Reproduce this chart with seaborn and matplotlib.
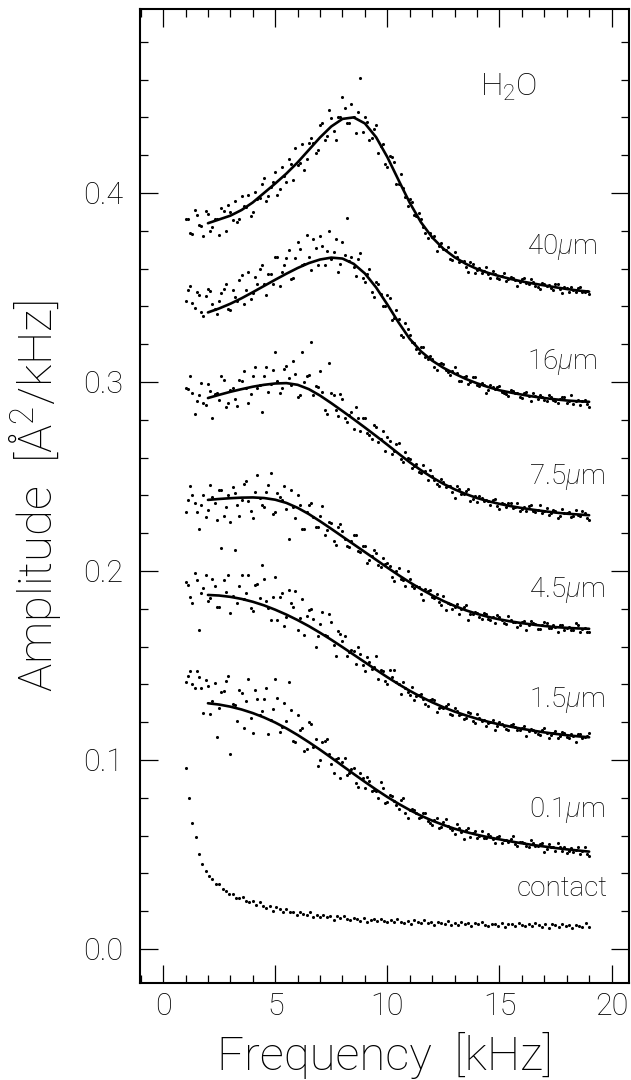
import numpy as np
import pandas as pd
import matplotlib
matplotlib.use("Agg")
import matplotlib.pyplot as plt
import seaborn as sns
from matplotlib.ticker import MultipleLocator, FormatStrFormatter

# measured spectra (amplitude in A^2/kHz), sampled evenly from 1.0 to 19.0 kHz
amp_40um = [0.386, 0.379, 0.391, 0.383, 0.377, 0.389, 0.382, 0.386, 0.392, 0.380,
            0.390, 0.396, 0.386, 0.393, 0.399, 0.390, 0.397, 0.405, 0.396, 0.403,
            0.411, 0.402, 0.409, 0.418, 0.407, 0.415, 0.426, 0.418, 0.429, 0.421,
            0.436, 0.428, 0.444, 0.433, 0.440, 0.451, 0.437, 0.447, 0.432, 0.461,
            0.440, 0.428, 0.434, 0.421, 0.426, 0.414, 0.419, 0.405, 0.410, 0.398,
            0.3966, 0.3885, 0.3895, 0.3819, 0.3761, 0.3768, 0.3694, 0.3737, 0.3698, 0.3653,
            0.3688, 0.3635, 0.3640, 0.3583, 0.3625, 0.3595, 0.3577, 0.3609, 0.3552, 0.3571,
            0.3545, 0.3574, 0.3543, 0.3552, 0.3506, 0.3545, 0.3526, 0.3547, 0.3508, 0.3494,
            0.3520, 0.3511, 0.3487, 0.3518, 0.3469, 0.3495, 0.3502, 0.3474, 0.3502, 0.3475,
            0.3463]
amp_16um = [0.343, 0.351, 0.339, 0.346, 0.335, 0.349, 0.341, 0.336, 0.347, 0.352,
            0.338, 0.345, 0.354, 0.341, 0.358, 0.347, 0.352, 0.362, 0.346, 0.357,
            0.366, 0.351, 0.362, 0.370, 0.355, 0.374, 0.362, 0.378, 0.359, 0.371,
            0.377, 0.362, 0.380, 0.369, 0.358, 0.374, 0.387, 0.366, 0.356, 0.368,
            0.353, 0.360, 0.345, 0.352, 0.340, 0.346, 0.333, 0.338, 0.325, 0.331,
            0.3251, 0.3206, 0.3153, 0.3183, 0.3124, 0.3123, 0.3062, 0.3098, 0.3064, 0.3039,
            0.3079, 0.3003, 0.3025, 0.2988, 0.3025, 0.2985, 0.2992, 0.2944, 0.2982, 0.2961,
            0.2980, 0.2940, 0.2925, 0.2951, 0.2941, 0.2917, 0.2948, 0.2899, 0.2925, 0.2931,
            0.2903, 0.2930, 0.2902, 0.2890, 0.2922, 0.2890, 0.2929, 0.2898, 0.2876, 0.2905,
            0.2865]
amp_7_5um = [0.297, 0.303, 0.283, 0.293, 0.289, 0.299, 0.281, 0.294, 0.303, 0.287,
             0.296, 0.291, 0.301, 0.306, 0.289, 0.303, 0.297, 0.284, 0.308, 0.299,
             0.316, 0.294, 0.307, 0.302, 0.311, 0.292, 0.316, 0.303, 0.321, 0.298,
             0.306, 0.285, 0.310, 0.293, 0.282, 0.291, 0.279, 0.284, 0.287, 0.274,
             0.281, 0.272, 0.277, 0.268, 0.274, 0.271, 0.262, 0.267, 0.259, 0.263,
             0.2595, 0.2557, 0.2526, 0.2562, 0.2483, 0.2502, 0.2459, 0.2489, 0.2442, 0.2450,
             0.2386, 0.2436, 0.2407, 0.2432, 0.2379, 0.2365, 0.2388, 0.2376, 0.2350, 0.2380,
             0.2330, 0.2356, 0.2361, 0.2332, 0.2357, 0.2328, 0.2315, 0.2347, 0.2313, 0.2350,
             0.2316, 0.2294, 0.2321, 0.2279, 0.2326, 0.2308, 0.2286, 0.2324, 0.2292, 0.2306,
             0.2270]
amp_4_5um = [0.231, 0.245, 0.236, 0.222, 0.240, 0.232, 0.239, 0.227, 0.243, 0.234,
             0.226, 0.241, 0.229, 0.246, 0.237, 0.228, 0.251, 0.235, 0.242, 0.252,
             0.231, 0.239, 0.245, 0.217, 0.234, 0.240, 0.222, 0.231, 0.236, 0.223,
             0.229, 0.219, 0.226, 0.216, 0.223, 0.221, 0.213, 0.216, 0.219, 0.210,
             0.213, 0.206, 0.211, 0.203, 0.207, 0.204, 0.197, 0.200, 0.196, 0.192,
             0.1956, 0.1909, 0.1913, 0.1847, 0.1893, 0.1860, 0.1879, 0.1819, 0.1794, 0.1823,
             0.1807, 0.1771, 0.1808, 0.1742, 0.1774, 0.1775, 0.1745, 0.1770, 0.1741, 0.1727,
             0.1758, 0.1725, 0.1762, 0.1728, 0.1705, 0.1732, 0.1689, 0.1736, 0.1718, 0.1695,
             0.1732, 0.1700, 0.1713, 0.1676, 0.1715, 0.1698, 0.1687, 0.1726, 0.1675, 0.1699,
             0.1678]
amp_1_5um = [0.194, 0.186, 0.199, 0.169, 0.191, 0.184, 0.196, 0.181, 0.212, 0.189,
             0.178, 0.211, 0.192, 0.185, 0.198, 0.179, 0.193, 0.203, 0.184, 0.174,
             0.197, 0.186, 0.171, 0.190, 0.181, 0.169, 0.185, 0.176, 0.180, 0.160,
             0.172, 0.166, 0.177, 0.161, 0.168, 0.163, 0.155, 0.158, 0.151, 0.156,
             0.147, 0.152, 0.149, 0.143, 0.147, 0.140, 0.144, 0.141, 0.135, 0.138,
             0.1342, 0.1316, 0.1342, 0.1324, 0.1286, 0.1321, 0.1253, 0.1282, 0.1286, 0.1244,
             0.1274, 0.1236, 0.1215, 0.1254, 0.1207, 0.1242, 0.1206, 0.1179, 0.1203, 0.1158,
             0.1202, 0.1182, 0.1157, 0.1192, 0.1157, 0.1168, 0.1129, 0.1166, 0.1147, 0.1134,
             0.1171, 0.1118, 0.1140, 0.1118, 0.1150, 0.1123, 0.1136, 0.1094, 0.1137, 0.1121,
             0.1145]
amp_0_1um = [0.141, 0.147, 0.138, 0.144, 0.125, 0.139, 0.131, 0.112, 0.136, 0.142,
             0.103, 0.129, 0.137, 0.117, 0.143, 0.114, 0.132, 0.126, 0.138, 0.121,
             0.143, 0.115, 0.130, 0.141, 0.110, 0.124, 0.117, 0.106, 0.119, 0.111,
             0.100, 0.110, 0.103, 0.093, 0.101, 0.099, 0.092, 0.095, 0.088, 0.093,
             0.085, 0.089, 0.084, 0.080, 0.085, 0.078, 0.081, 0.076, 0.079, 0.072,
             0.0735, 0.0737, 0.0693, 0.0721, 0.0678, 0.0655, 0.0692, 0.0644, 0.0688, 0.0642,
             0.0609, 0.0641, 0.0582, 0.0641, 0.0615, 0.0587, 0.0623, 0.0589, 0.0600, 0.0561,
             0.0597, 0.0578, 0.0564, 0.0600, 0.0546, 0.0567, 0.0543, 0.0574, 0.0545, 0.0557,
             0.0513, 0.0555, 0.0537, 0.0558, 0.0520, 0.0507, 0.0534, 0.0526, 0.0504, 0.0537,
             0.0490]

# in-between samples of the same spectra, 1.1 to 18.9 kHz
amp_40um_mid = [0.3861, 0.3784, 0.3882, 0.3826, 0.3903, 0.3799, 0.3861, 0.3779, 0.3904, 0.3939,
                0.3859, 0.3844, 0.3982, 0.3926, 0.3879, 0.4005, 0.3971, 0.4081, 0.3984, 0.4058,
                0.3989, 0.4136, 0.4058, 0.4154, 0.4240, 0.4157, 0.4121, 0.4264, 0.4263, 0.4227,
                0.4369, 0.4302, 0.4397, 0.4278, 0.4402, 0.4450, 0.4369, 0.4400, 0.4429, 0.4325,
                0.4374, 0.4289, 0.4358, 0.4246, 0.4155, 0.4194, 0.4166, 0.4047, 0.4027, 0.3930,
                0.3951, 0.3880, 0.3860, 0.3786, 0.3787, 0.3771, 0.3717, 0.3702, 0.3714, 0.3648,
                0.3662, 0.3639, 0.3610, 0.3635, 0.3579, 0.3602, 0.3587, 0.3571, 0.3586, 0.3551,
                0.3561, 0.3533, 0.3555, 0.3540, 0.3527, 0.3548, 0.3521, 0.3527, 0.3503, 0.3525,
                0.3507, 0.3495, 0.3517, 0.3491, 0.3502, 0.3474, 0.3489, 0.3496, 0.3474, 0.3483]
amp_16um_mid = [0.3489, 0.3419, 0.3475, 0.3370, 0.3454, 0.3484, 0.3385, 0.3429, 0.3493, 0.3386,
                0.3487, 0.3426, 0.3564, 0.3487, 0.3437, 0.3558, 0.3598, 0.3521, 0.3570, 0.3520,
                0.3659, 0.3582, 0.3658, 0.3544, 0.3655, 0.3702, 0.3623, 0.3660, 0.3758, 0.3621,
                0.3717, 0.3694, 0.3653, 0.3759, 0.3622, 0.3671, 0.3642, 0.3607, 0.3653, 0.3548,
                0.3571, 0.3476, 0.3530, 0.3464, 0.3404, 0.3445, 0.3341, 0.3333, 0.3238, 0.3281,
                0.3212, 0.3173, 0.3186, 0.3133, 0.3135, 0.3081, 0.3093, 0.3093, 0.3051, 0.3056,
                0.3047, 0.3003, 0.3034, 0.3001, 0.3025, 0.2979, 0.2983, 0.2955, 0.2974, 0.2973,
                0.2948, 0.2937, 0.2960, 0.2940, 0.2921, 0.2941, 0.2925, 0.2941, 0.2912, 0.2921,
                0.2898, 0.2923, 0.2898, 0.2912, 0.2923, 0.2897, 0.2881, 0.2906, 0.2899, 0.2883]
amp_7_5um_mid = [0.2964, 0.2940, 0.2900, 0.2996, 0.2876, 0.2954, 0.2934, 0.2905, 0.3010, 0.2891,
                 0.2969, 0.2875, 0.3007, 0.2967, 0.2936, 0.3078, 0.2983, 0.3032, 0.2945, 0.3065,
                 0.3003, 0.2968, 0.3086, 0.2983, 0.3043, 0.2929, 0.3000, 0.3036, 0.2932, 0.2973,
                 0.2947, 0.2832, 0.2942, 0.2853, 0.2935, 0.2807, 0.2826, 0.2749, 0.2809, 0.2810,
                 0.2732, 0.2696, 0.2762, 0.2696, 0.2635, 0.2689, 0.2634, 0.2675, 0.2579, 0.2596,
                 0.2543, 0.2568, 0.2518, 0.2527, 0.2533, 0.2482, 0.2448, 0.2473, 0.2452, 0.2420,
                 0.2448, 0.2408, 0.2422, 0.2369, 0.2396, 0.2399, 0.2368, 0.2369, 0.2375, 0.2344,
                 0.2359, 0.2338, 0.2361, 0.2337, 0.2319, 0.2339, 0.2342, 0.2318, 0.2323, 0.2306,
                 0.2331, 0.2308, 0.2319, 0.2289, 0.2308, 0.2314, 0.2293, 0.2297, 0.2315, 0.2282]
amp_4_5um_mid = [0.2376, 0.2403, 0.2313, 0.2349, 0.2286, 0.2457, 0.2359, 0.2431, 0.2293, 0.2404,
                 0.2446, 0.2347, 0.2378, 0.2478, 0.2319, 0.2419, 0.2388, 0.2336, 0.2453, 0.2299,
                 0.2414, 0.2377, 0.2330, 0.2430, 0.2279, 0.2347, 0.2224, 0.2351, 0.2286, 0.2231,
                 0.2345, 0.2219, 0.2253, 0.2137, 0.2250, 0.2168, 0.2127, 0.2189, 0.2107, 0.2132,
                 0.2044, 0.2081, 0.2095, 0.2019, 0.2038, 0.2028, 0.1946, 0.2014, 0.1951, 0.2002,
                 0.1918, 0.1921, 0.1877, 0.1903, 0.1899, 0.1856, 0.1835, 0.1865, 0.1831, 0.1799,
                 0.1825, 0.1798, 0.1819, 0.1772, 0.1783, 0.1754, 0.1775, 0.1747, 0.1758, 0.1767,
                 0.1738, 0.1719, 0.1741, 0.1731, 0.1714, 0.1736, 0.1713, 0.1726, 0.1693, 0.1714,
                 0.1724, 0.1697, 0.1703, 0.1713, 0.1686, 0.1704, 0.1687, 0.1714, 0.1693, 0.1678]
amp_1_5um_mid = [0.1927, 0.1828, 0.1954, 0.1882, 0.1981, 0.1858, 0.1922, 0.1811, 0.1951, 0.1981,
                 0.1868, 0.1830, 0.1980, 0.1886, 0.1803, 0.1928, 0.1855, 0.1957, 0.1805, 0.1862,
                 0.1742, 0.1886, 0.1754, 0.1830, 0.1896, 0.1752, 0.1662, 0.1792, 0.1745, 0.1654,
                 0.1783, 0.1658, 0.1731, 0.1550, 0.1667, 0.1657, 0.1569, 0.1577, 0.1597, 0.1503,
                 0.1547, 0.1483, 0.1551, 0.1475, 0.1418, 0.1474, 0.1478, 0.1403, 0.1413, 0.1357,
                 0.1384, 0.1341, 0.1349, 0.1295, 0.1317, 0.1318, 0.1277, 0.1276, 0.1297, 0.1239,
                 0.1261, 0.1244, 0.1221, 0.1250, 0.1198, 0.1223, 0.1210, 0.1196, 0.1212, 0.1179,
                 0.1190, 0.1163, 0.1186, 0.1172, 0.1159, 0.1181, 0.1155, 0.1161, 0.1137, 0.1160,
                 0.1142, 0.1131, 0.1154, 0.1129, 0.1140, 0.1114, 0.1129, 0.1137, 0.1115, 0.1125]
amp_0_1um_mid = [0.1445, 0.1403, 0.1473, 0.1382, 0.1424, 0.1243, 0.1408, 0.1273, 0.1365, 0.1444,
                 0.1295, 0.1205, 0.1355, 0.1312, 0.1220, 0.1368, 0.1239, 0.1325, 0.1135, 0.1267,
                 0.1328, 0.1172, 0.1207, 0.1266, 0.1095, 0.1161, 0.1049, 0.1202, 0.1066, 0.0966,
                 0.1094, 0.1113, 0.0976, 0.1007, 0.0906, 0.1008, 0.0931, 0.0956, 0.0855, 0.0904,
                 0.0912, 0.0835, 0.0837, 0.0881, 0.0770, 0.0815, 0.0782, 0.0738, 0.0797, 0.0693,
                 0.0741, 0.0720, 0.0696, 0.0719, 0.0666, 0.0680, 0.0638, 0.0671, 0.0648, 0.0628,
                 0.0660, 0.0620, 0.0628, 0.0592, 0.0625, 0.0599, 0.0586, 0.0607, 0.0581, 0.0590,
                 0.0562, 0.0575, 0.0581, 0.0557, 0.0565, 0.0563, 0.0538, 0.0562, 0.0543, 0.0561,
                 0.0530, 0.0539, 0.0516, 0.0539, 0.0542, 0.0520, 0.0511, 0.0537, 0.0519, 0.0503]

amp_contact = [0.0956, 0.0800, 0.0665, 0.0590, 0.0505, 0.0452, 0.0415, 0.0388, 0.0368, 0.0342,
               0.0341, 0.0316, 0.0309, 0.0289, 0.0292, 0.0271, 0.0268, 0.0274, 0.0252, 0.0246,
               0.0252, 0.0235, 0.0246, 0.0229, 0.0216, 0.0225, 0.0203, 0.0221, 0.0210, 0.0198,
               0.0212, 0.0195, 0.0198, 0.0181, 0.0195, 0.0186, 0.0179, 0.0194, 0.0171, 0.0180,
               0.0168, 0.0182, 0.0169, 0.0175, 0.0155, 0.0172, 0.0165, 0.0173, 0.0157, 0.0151,
               0.0162, 0.0160, 0.0150, 0.0163, 0.0142, 0.0154, 0.0158, 0.0147, 0.0158, 0.0147,
               0.0141, 0.0155, 0.0142, 0.0157, 0.0145, 0.0135, 0.0148, 0.0131, 0.0152, 0.0143,
               0.0135, 0.0151, 0.0137, 0.0143, 0.0129, 0.0145, 0.0137, 0.0132, 0.0149, 0.0128,
               0.0138, 0.0127, 0.0143, 0.0131, 0.0138, 0.0119, 0.0138, 0.0133, 0.0141, 0.0127,
               0.0122, 0.0134, 0.0133, 0.0123, 0.0138, 0.0117, 0.0130, 0.0134, 0.0123, 0.0135,
               0.0125, 0.0120, 0.0134, 0.0122, 0.0138, 0.0125, 0.0116, 0.0130, 0.0113, 0.0134,
               0.0126, 0.0118, 0.0134, 0.0120, 0.0127, 0.0113, 0.0129, 0.0122, 0.0117, 0.0135,
               0.0114]

# fitted curves, 2 to 19 kHz in 0.5 kHz steps
fit_freq = np.arange(2.0, 19.01, 0.5)
fit_40um = [0.384, 0.386, 0.388, 0.391, 0.395, 0.400, 0.405, 0.4103, 0.4162, 0.4228,
            0.4294, 0.4352, 0.4392, 0.4400, 0.4368, 0.4295, 0.4190, 0.4068, 0.3948, 0.3845,
            0.3765, 0.3705, 0.3660, 0.3625, 0.3598, 0.3577, 0.3560, 0.3545, 0.3532, 0.3521,
            0.3511, 0.3501, 0.3492, 0.3484, 0.3478]
fit_16um = [0.3368, 0.3389, 0.3414, 0.3443, 0.3475, 0.3508, 0.3541, 0.3573, 0.3603, 0.3629,
            0.3648, 0.3658, 0.3653, 0.3625, 0.3574, 0.3500, 0.3410, 0.3315, 0.3228, 0.3162,
            0.3113, 0.3075, 0.3044, 0.3016, 0.2993, 0.2973, 0.2956, 0.2944, 0.2933, 0.2923,
            0.2915, 0.2908, 0.2902, 0.2898, 0.2895]
fit_7_5um = [0.2915, 0.2932, 0.2948, 0.2962, 0.2975, 0.2985, 0.2992, 0.2994, 0.2985, 0.2962,
             0.2928, 0.2888, 0.2846, 0.2803, 0.2759, 0.2714, 0.2668, 0.2621, 0.2575, 0.2533,
             0.2495, 0.2461, 0.2432, 0.2407, 0.2386, 0.2369, 0.2355, 0.2343, 0.2333, 0.2324,
             0.2316, 0.2309, 0.2303, 0.2299, 0.2295]
fit_4_5um = [0.2376, 0.2381, 0.2385, 0.2388, 0.2389, 0.2386, 0.2377, 0.2360, 0.2334, 0.2301,
             0.2263, 0.2223, 0.2182, 0.2141, 0.2100, 0.2059, 0.2018, 0.1978, 0.1940, 0.1904,
             0.1871, 0.1841, 0.1815, 0.1792, 0.1773, 0.1757, 0.1744, 0.1733, 0.1724, 0.1716,
             0.1709, 0.1703, 0.1699, 0.1696, 0.1694]
fit_1_5um = [0.1873, 0.1870, 0.1863, 0.1852, 0.1837, 0.1818, 0.1795, 0.1769, 0.1740, 0.1708,
             0.1673, 0.1636, 0.1597, 0.1557, 0.1517, 0.1477, 0.1438, 0.1401, 0.1366, 0.1334,
             0.1305, 0.1279, 0.1256, 0.1236, 0.1218, 0.1202, 0.1188, 0.1176, 0.1165, 0.1155,
             0.1146, 0.1138, 0.1131, 0.1125, 0.1120]
fit_0_1um = [0.1300, 0.1293, 0.1282, 0.1267, 0.1248, 0.1225, 0.1198, 0.1167, 0.1132, 0.1094,
             0.1054, 0.1012, 0.0969, 0.0926, 0.0884, 0.0843, 0.0804, 0.0768, 0.0735, 0.0705,
             0.0679, 0.0656, 0.0636, 0.0619, 0.0604, 0.0591, 0.0580, 0.0569, 0.0559, 0.0550,
             0.0542, 0.0534, 0.0527, 0.0521, 0.0515]

spectra = [amp_40um, amp_16um, amp_7_5um, amp_4_5um, amp_1_5um, amp_0_1um, amp_contact]
spectra_mid = [amp_40um_mid, amp_16um_mid, amp_7_5um_mid, amp_4_5um_mid, amp_1_5um_mid, amp_0_1um_mid]
fits = [fit_40um, fit_16um, fit_7_5um, fit_4_5um, fit_1_5um, fit_0_1um]

names = ["40$\\mu$m", "16$\\mu$m", "7.5$\\mu$m", "4.5$\\mu$m", "1.5$\\mu$m", "0.1$\\mu$m", "contact"]
name_pos = [(19.35, 0.3716), (19.35, 0.3107), (19.71, 0.2499), (19.71, 0.190),
            (19.71, 0.1317), (19.71, 0.0735), (19.84, 0.0321)]

sns.set_theme(style="ticks")
plt.rcParams["font.family"] = ["Roboto", "DejaVu Sans"]
plt.rcParams["font.weight"] = "light"
plt.rcParams["mathtext.fontset"] = "custom"
plt.rcParams["mathtext.rm"] = "Roboto:light"
plt.rcParams["mathtext.it"] = "Roboto:italic:light"
for key in ["text.color", "axes.labelcolor", "xtick.color", "ytick.color", "axes.edgecolor"]:
    plt.rcParams[key] = "black"

fig = plt.figure(figsize=(6.31, 10.80), dpi=100)
ax = fig.add_axes([0.2219, 0.0895, 0.7750, 0.9019])

for amp in spectra:
    freq = np.linspace(1.0, 19.0, len(amp))
    sns.scatterplot(x=freq, y=amp, s=5, color="black", linewidth=0, ax=ax)
for amp in spectra_mid:
    freq = np.linspace(1.1, 18.9, len(amp))
    sns.scatterplot(x=freq, y=amp, s=5, color="black", linewidth=0, ax=ax)
for fit in fits:
    sns.lineplot(x=fit_freq, y=fit, color="black", linewidth=1.9, ax=ax)

for name, (tx, ty) in zip(names, name_pos):
    ax.text(tx, ty, name, ha="right", va="center", fontsize=20, fontweight="light")
ax.text(14.13, 0.456, "H$_2$O", ha="left", va="center", fontsize=23, fontweight="light")

ax.set_xlim(-1.03, 20.78)
ax.set_ylim(-0.0182, 0.4972)
ax.xaxis.set_major_locator(MultipleLocator(5))
ax.xaxis.set_minor_locator(MultipleLocator(1))
ax.yaxis.set_major_locator(MultipleLocator(0.1))
ax.yaxis.set_minor_locator(MultipleLocator(0.02))
ax.yaxis.set_major_formatter(FormatStrFormatter("%.1f"))
ax.tick_params(which="both", direction="in", top=True, right=True, width=0.9)
ax.tick_params(which="major", length=13, labelsize=22)
ax.tick_params(which="minor", length=5.5)
ax.tick_params(axis="y", pad=12)
ax.tick_params(axis="x", pad=6.5)
for sp in ax.spines.values():
    sp.set_linewidth(1.5)

ax.set_xlabel("Frequency  [kHz]", fontsize=34, fontweight="light")
ax.set_ylabel("Amplitude  [Å$^2$/kHz]", fontsize=34, fontweight="light")
ax.xaxis.set_label_coords(0.5, -0.05)
ax.yaxis.set_label_coords(-0.157, 0.5)

fig.savefig("out.png", dpi=100)
